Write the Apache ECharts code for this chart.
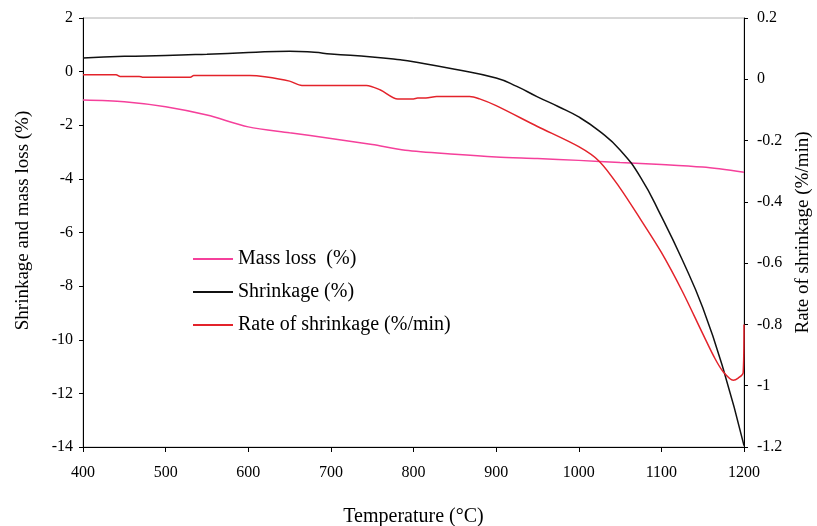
<!DOCTYPE html>
<html>
<head>
<meta charset="utf-8">
<script src="https://cdn.jsdelivr.net/npm/echarts@6/dist/echarts.min.js"></script>
<style>
html,body{margin:0;padding:0;background:#fff;}
#chart{width:817px;height:526px;}
</style>
</head>
<body>
<div id="chart"></div>
<script>
// Temperature (°C) vs Mass loss (%) — left axis
const massLossT = [400, 450, 500, 550, 600, 650, 700, 750, 790, 850, 900, 950, 1000, 1050, 1100, 1150, 1200];
const massLossV = [-1.06, -1.12, -1.31, -1.62, -2.06, -2.28, -2.49, -2.72, -2.93, -3.08, -3.18, -3.24, -3.31, -3.39, -3.46, -3.56, -3.75];

// Shrinkage (%) — left axis
const shrinkT = [400, 450, 500, 550, 600, 650, 680, 700, 750, 784, 800, 850, 900, 925, 950, 975, 1000, 1025, 1050, 1075, 1100, 1125, 1150, 1175, 1200];
const shrinkV = [0.51, 0.57, 0.60, 0.65, 0.71, 0.76, 0.72, 0.66, 0.55, 0.44, 0.37, 0.09, -0.24, -0.55, -0.94, -1.30, -1.69, -2.22, -2.92, -3.95, -5.40, -7.00, -8.80, -11.10, -13.95];

// Rate of shrinkage (%/min) — right axis
const rateT = [400, 440, 445, 468, 472, 530, 534, 602, 620, 650, 665, 700, 743, 760, 781, 800, 805, 815, 828, 868, 880, 900, 950, 1000, 1025, 1050, 1075, 1100, 1125, 1150, 1165, 1175, 1187, 1193, 1199, 1200];
const rateV = [0.015, 0.015, 0.009, 0.009, 0.007, 0.007, 0.012, 0.012, 0.008, -0.006, -0.020, -0.020, -0.020, -0.035, -0.064, -0.064, -0.061, -0.061, -0.056, -0.056, -0.064, -0.086, -0.154, -0.220, -0.268, -0.355, -0.458, -0.565, -0.690, -0.830, -0.912, -0.955, -0.982, -0.975, -0.958, -0.800];

const xTicks = {min: 400, max: 1200, interval: 100};
const leftTicks = {min: -14, max: 2, interval: 2};
const rightTicks = {min: -1.2, max: 0.2, interval: 0.2};

const zip = (a, b) => a.map((t, i) => [t, b[i]]);
const serif = '"Liberation Serif", "DejaVu Serif", serif';

const chart = echarts.init(document.getElementById('chart'));
chart.setOption({
  animation: false,
  backgroundColor: '#fff',
  textStyle: {fontFamily: serif},
  grid: {left: 83, right: 73, top: 18, bottom: 79, show: true, borderColor: '#b0b0b0', borderWidth: 1, outerBoundsMode: 'none', containLabel: false},
  legend: {
    orient: 'vertical',
    left: 193, top: 249, padding: 0,
    icon: 'rect',
    itemWidth: 40, itemHeight: 2, itemGap: 13,
    textStyle: {fontFamily: serif, fontSize: 20, color: '#000'},
    data: ['Mass loss  (%)', 'Shrinkage (%)', 'Rate of shrinkage (%/min)']
  },
  xAxis: {
    type: 'value', min: xTicks.min, max: xTicks.max, interval: xTicks.interval,
    name: 'Temperature (°C)', nameLocation: 'middle', nameGap: 60,
    nameTextStyle: {fontFamily: serif, fontSize: 20, color: '#000'},
    axisLine: {onZero: false, lineStyle: {color: '#000', width: 1}},
    axisTick: {show: true, length: 5, lineStyle: {color: '#000'}},
    axisLabel: {fontFamily: serif, fontSize: 16, color: '#000', margin: 18, formatter: v => String(v)},
    splitLine: {show: false}
  },
  yAxis: [{
    type: 'value', min: leftTicks.min, max: leftTicks.max, interval: leftTicks.interval,
    name: 'Shrinkage and mass loss (%)', nameLocation: 'middle', nameGap: 50,
    nameTextStyle: {fontFamily: serif, fontSize: 19, color: '#000', padding: [0, 0, 0, 24]},
    axisLine: {show: true, onZero: false, lineStyle: {color: '#000', width: 1}},
    axisTick: {show: true, length: 4, lineStyle: {color: '#000'}},
    axisLabel: {fontFamily: serif, fontSize: 16, color: '#000', margin: 10},
    splitLine: {show: false}
  }, {
    type: 'value', position: 'right', min: rightTicks.min, max: rightTicks.max, interval: rightTicks.interval,
    name: 'Rate of shrinkage (%/min)', nameLocation: 'middle', nameGap: 50, nameRotate: 90,
    nameTextStyle: {fontFamily: serif, fontSize: 19, color: '#000'},
    axisLine: {show: true, onZero: false, lineStyle: {color: '#000', width: 1}},
    axisTick: {show: true, length: 4, lineStyle: {color: '#000'}},
    axisLabel: {fontFamily: serif, fontSize: 16, color: '#000', margin: 13},
    splitLine: {show: false}
  }],
  series: [{
    name: 'Mass loss  (%)', type: 'line', yAxisIndex: 0, symbol: 'none', smooth: 0.3,
    lineStyle: {color: '#f5409b', width: 1.5}, itemStyle: {color: '#f5409b'},
    data: zip(massLossT, massLossV)
  }, {
    name: 'Shrinkage (%)', type: 'line', yAxisIndex: 0, symbol: 'none', smooth: 0.5, smoothConstraint: false,
    lineStyle: {color: '#111', width: 1.5}, itemStyle: {color: '#111'},
    data: zip(shrinkT, shrinkV)
  }, {
    name: 'Rate of shrinkage (%/min)', type: 'line', yAxisIndex: 1, symbol: 'none', smooth: 0.3,
    lineStyle: {color: '#e3232b', width: 1.5}, itemStyle: {color: '#e3232b'},
    data: zip(rateT, rateV)
  }]
});
</script>
</body>
</html>
